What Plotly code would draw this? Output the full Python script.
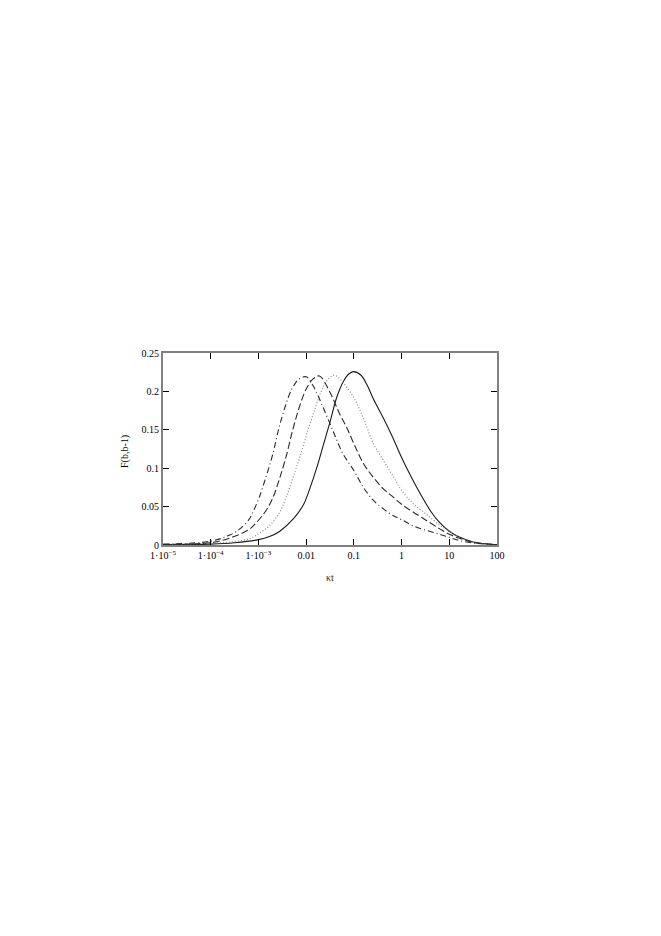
import plotly.graph_objects as go

# log10(kt) positions and F values for each curve
solid_logx = [-5, -4, -3.5, -3.0, -2.77, -2.55, -2.27, -2.06, -1.92, -1.78, -1.64, -1.5, -1.36, -1.22, -1.1, -1.0,
              -0.85, -0.72, -0.59, -0.38, -0.2, 0.0, 0.2, 0.39, 0.6, 0.8, 1.0, 1.22, 1.5, 2.0]
solid_y = [0.0005, 0.0012, 0.003, 0.007, 0.011, 0.018, 0.034, 0.052, 0.074, 0.10, 0.13, 0.16, 0.192, 0.213, 0.223, 0.2257,
           0.221, 0.208, 0.19, 0.165, 0.142, 0.114, 0.089, 0.067, 0.045, 0.029, 0.018, 0.010, 0.004, 0.0004]

dotted_logx = [-5, -4, -3.6, -3.2, -2.99, -2.77, -2.56, -2.42, -2.28, -2.14, -1.96, -1.8, -1.65, -1.52, -1.41, -1.29,
               -1.01, -0.80, -0.59, -0.38, -0.17, 0.0, 0.24, 0.52, 0.80, 1.0, 1.22, 1.5, 2.0]
dotted_y = [0.0006, 0.002, 0.004, 0.008, 0.015, 0.025, 0.042, 0.062, 0.087, 0.113, 0.15, 0.18, 0.205, 0.217, 0.221, 0.216,
            0.193, 0.165, 0.132, 0.11, 0.089, 0.071, 0.054, 0.04, 0.026, 0.018, 0.010, 0.0035, 0.0004]

dashed_logx = [-5, -4, -3.6, -3.2, -3.06, -2.85, -2.70, -2.56, -2.42, -2.28, -2.14, -2.0, -1.86, -1.72, -1.51, -1.30,
               -1.15, -1.0, -0.8, -0.59, -0.38, -0.17, 0.0, 0.24, 0.52, 0.8, 1.0, 1.22, 1.5, 2.0]
dashed_y = [0.0008, 0.003, 0.009, 0.02, 0.028, 0.044, 0.061, 0.086, 0.115, 0.15, 0.18, 0.203, 0.216, 0.22, 0.2, 0.171,
            0.153, 0.132, 0.106, 0.088, 0.073, 0.062, 0.053, 0.043, 0.032, 0.021, 0.014, 0.0087, 0.0035, 0.0004]

dashdot_logx = [-5, -4, -3.6, -3.41, -3.2, -3.13, -2.99, -2.85, -2.70, -2.58, -2.44, -2.3, -2.15, -2.0, -1.86, -1.65,
                -1.44, -1.23, -1.0, -0.8, -0.59, -0.38, -0.17, 0.0, 0.24, 0.52, 0.8, 1.0, 1.22, 1.5, 2.0]
dashdot_y = [0.001, 0.005, 0.013, 0.02, 0.033, 0.041, 0.061, 0.087, 0.118, 0.15, 0.18, 0.203, 0.216, 0.219, 0.208, 0.18,
             0.149, 0.119, 0.097, 0.075, 0.058, 0.047, 0.038, 0.033, 0.025, 0.019, 0.014, 0.010, 0.0057, 0.0026, 0.0003]

x_tickvals = [1e-5, 1e-4, 1e-3, 0.01, 0.1, 1, 10, 100]
x_ticktext = ["1·10<sup>−5</sup>", "1·10<sup>−4</sup>", "1·10<sup>−3</sup>", "0.01", "0.1", "1", "10", "100"]
y_tickvals = [0, 0.05, 0.1, 0.15, 0.2, 0.25]
y_ticktext = ["0", "0.05", "0.1", "0.15", "0.2", "0.25"]

FONT = "Liberation Serif, Times New Roman, serif"

fig = go.Figure()
series = [
    (solid_logx, solid_y, "solid", "#1a1a1a"),
    (dotted_logx, dotted_y, "1px,2px", "#808080"),
    (dashed_logx, dashed_y, "7px,3px", "#2a2a2a"),
    (dashdot_logx, dashdot_y, "6px,3px,1px,3px", "#2a2a2a"),
]
for lx, y, dash, col in series:
    fig.add_trace(go.Scatter(
        x=[10 ** v for v in lx], y=y, mode="lines",
        line=dict(color=col, width=1.1, dash=dash, shape="spline", smoothing=1.0),
        showlegend=False, hoverinfo="skip"))

# target plot-area pixels in the page (page body has an 8px margin)
OFF = 8
L, R, T, B = 163, 497, 353, 545
W, H = 661, 936

fig.update_layout(
    width=W, height=H,
    margin=dict(l=L - OFF, r=W + OFF - R, t=T - OFF, b=H + OFF - B, pad=0),
    paper_bgcolor="white", plot_bgcolor="white",
    font=dict(family=FONT, size=10, color="black"),
    showlegend=False,
)
fig.update_xaxes(
    type="log", range=[-5, 2],
    tickvals=x_tickvals, ticktext=x_ticktext,
    ticks="inside", ticklen=6, tickcolor="black", tickwidth=1,
    showline=True, linecolor="#808080", linewidth=2, mirror="ticks",
    showgrid=False, zeroline=False,
    tickfont=dict(family=FONT, size=10, color="black"),
)
fig.update_yaxes(
    range=[0, 0.25],
    tickvals=y_tickvals, ticktext=y_ticktext,
    ticks="inside", ticklen=6, tickcolor="black", tickwidth=1,
    showline=True, linecolor="#808080", linewidth=2, mirror="ticks",
    showgrid=False, zeroline=False,
    tickfont=dict(family=FONT, size=10, color="black"),
)

def px2paper(px, py):
    return (px - L) / (R - L), (B - py) / (B - T)

ax, ay = px2paper(117, 452)
fig.add_annotation(x=ax, y=ay, xref="paper", yref="paper", text="F(b,b-1)", textangle=-90,
                   showarrow=False, font=dict(family=FONT, size=10, color="black"))
bx, by = px2paper(330, 585)
fig.add_annotation(x=bx, y=by, xref="paper", yref="paper", text="κt",
                   showarrow=False, font=dict(family=FONT, size=10, color="#5a1a1a"))

fig.write_html("out.html")
